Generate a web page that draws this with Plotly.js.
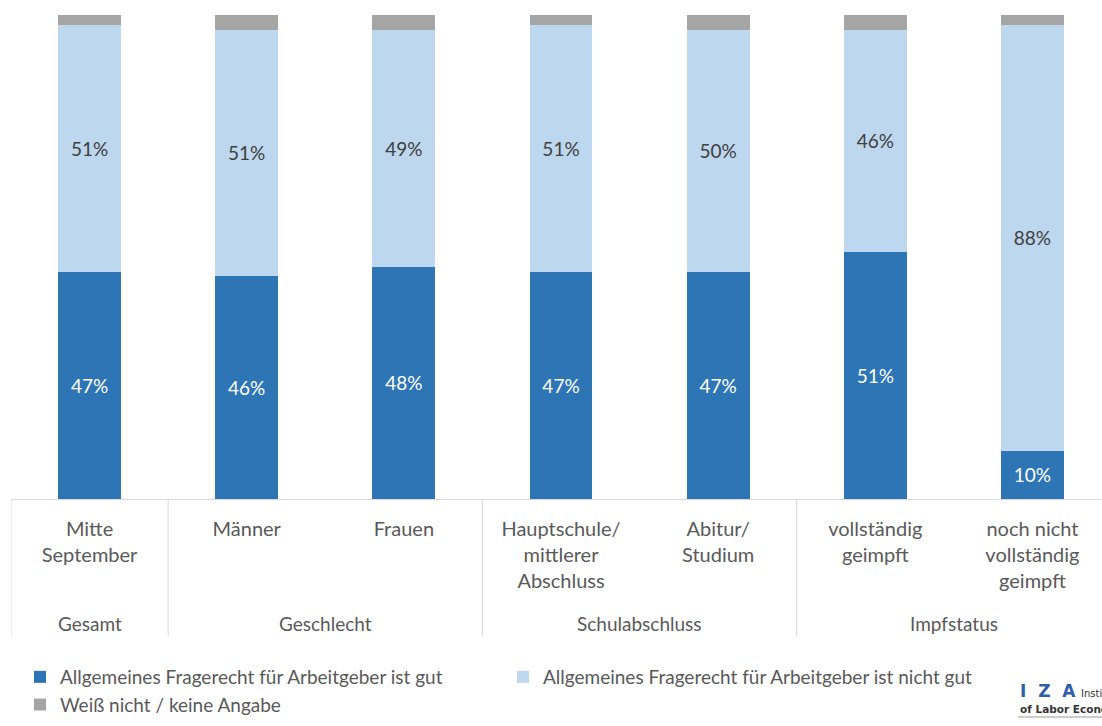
<!DOCTYPE html>
<html>
<head>
<meta charset="utf-8">
<script src="https://cdn.plot.ly/plotly-3.0.1.min.js"></script>
<style>
html,body{margin:0;padding:0;overflow:hidden;background:#fff;}
#chart{width:1112px;height:726px;}
</style>
</head>
<body>
<div id="chart"></div>
<script>
// ---- data ----
const groups = ["Gesamt","Geschlecht","Geschlecht","Schulabschluss","Schulabschluss","Impfstatus","Impfstatus"];
const categories = ["Mitte<br>September","Männer","Frauen","Hauptschule/<br>mittlerer<br>Abschluss","Abitur/<br>Studium","vollständig<br>geimpft","noch nicht<br>vollständig<br>geimpft"];
const gut = [47,46,48,47,47,51,10];
const nichtGut = [51,51,49,51,50,46,88];
const weissNicht = [2,3,3,2,3,3,2];
const seriesNames = ["Allgemeines Fragerecht für Arbeitgeber ist gut","Allgemeines Fragerecht für Arbeitgeber ist nicht gut","Weiß nicht / keine Angabe"];

const FONT = "Lato, 'Open Sans', sans-serif";
const TEXTGRAY = "#595959";
const LINEGRAY = "#d9d9d9";
const pct = v => v.map(d => d + "%");

const traces = [
  {type:"bar", name:seriesNames[0], x:categories, y:gut, text:pct(gut), textposition:"inside", insidetextanchor:"middle",
   marker:{color:"#2E75B6"}, textfont:{color:"#ffffff", size:19, family:FONT}, hoverinfo:"skip"},
  {type:"bar", name:seriesNames[1], x:categories, y:nichtGut, text:pct(nichtGut), textposition:"inside", insidetextanchor:"middle",
   marker:{color:"#BDD7EE"}, textfont:{color:"#404040", size:19, family:FONT}, hoverinfo:"skip"},
  {type:"bar", name:seriesNames[2], x:categories, y:weissNicht, textposition:"none",
   marker:{color:"#A5A5A5"}, hoverinfo:"skip"}
];

const W = 1112, H = 726, L = 11, R = 1, T = 15, B = 227;
const px2x = p => (p - L) / (W - L - R);
const py2y = p => (H - B - p) / (H - T - B);

// group spans derived from the groups array
const spans = [];
groups.forEach((g, i) => {
  if (i === 0 || g !== groups[i - 1]) spans.push({name: g, start: i, end: i});
  else spans[spans.length - 1].end = i;
});

const shapes = [];
const boundaries = [-0.5].concat(spans.map(s => s.end + 0.5));
boundaries.forEach(b => {
  shapes.push({type:"line", xref:"x", yref:"paper", x0:b, x1:b, y0:0, y1:py2y(636),
               line:{color:LINEGRAY, width:1}, layer:"above"});
});
// thin rule under the logo
shapes.push({type:"line", xref:"paper", yref:"paper", x0:px2x(1018), x1:px2x(1112), y0:py2y(717), y1:py2y(717),
             line:{color:"#9a9a9a", width:1}});

const annotations = spans.map(s => ({
  xref:"x", yref:"paper", x:(s.start + s.end) / 2, y:py2y(623), xanchor:"center", yanchor:"middle",
  text:s.name, showarrow:false, font:{family:FONT, size:19, color:TEXTGRAY}
}));
annotations.push(
  {xref:"paper", yref:"paper", x:px2x(1018), y:py2y(691), xanchor:"left", yanchor:"middle",
   text:"<b>I  Z  A</b>", showarrow:false, font:{family:"'DejaVu Sans', sans-serif", size:17, color:"#2F5DA8"}},
  {xref:"paper", yref:"paper", x:px2x(1079), y:py2y(693), xanchor:"left", yanchor:"middle",
   text:"Institute", showarrow:false, font:{family:"'DejaVu Sans', sans-serif", size:10, color:"#333333"}},
  {xref:"paper", yref:"paper", x:px2x(1018), y:py2y(709), xanchor:"left", yanchor:"middle",
   text:"<b>of Labor Economics</b>", showarrow:false, font:{family:"'DejaVu Sans', sans-serif", size:10.5, color:"#333333"}}
);

const layout = {
  width: W, height: H,
  margin: {l:L, r:R, t:T, b:B, pad:0},
  barmode: "stack",
  bargap: 0.6,
  paper_bgcolor: "#ffffff",
  plot_bgcolor: "#ffffff",
  font: {family: FONT, size: 19, color: TEXTGRAY},
  showlegend: true,
  legend: {
    orientation: "h",
    x: px2x(20), xanchor: "left",
    y: py2y(658), yanchor: "top",
    font: {family: FONT, size: 19, color: TEXTGRAY},
    entrywidth: 438, entrywidthmode: "pixels",
    traceorder: "normal",
    itemclick: false, itemdoubleclick: false
  },
  xaxis: {
    type: "category",
    range: [-0.5, categories.length - 0.5],
    showline: true, linecolor: LINEGRAY, linewidth: 1,
    showgrid: false, zeroline: false,
    ticks: "",
    ticklabelstandoff: 12,
    tickfont: {family: FONT, size: 20, color: TEXTGRAY},
    fixedrange: true
  },
  yaxis: {
    range: [0, 100],
    visible: false,
    showgrid: false, zeroline: false,
    fixedrange: true
  },
  shapes: shapes,
  annotations: annotations
};

Plotly.newPlot("chart", traces, layout, {displayModeBar:false, staticPlot:true});
</script>
</body>
</html>
